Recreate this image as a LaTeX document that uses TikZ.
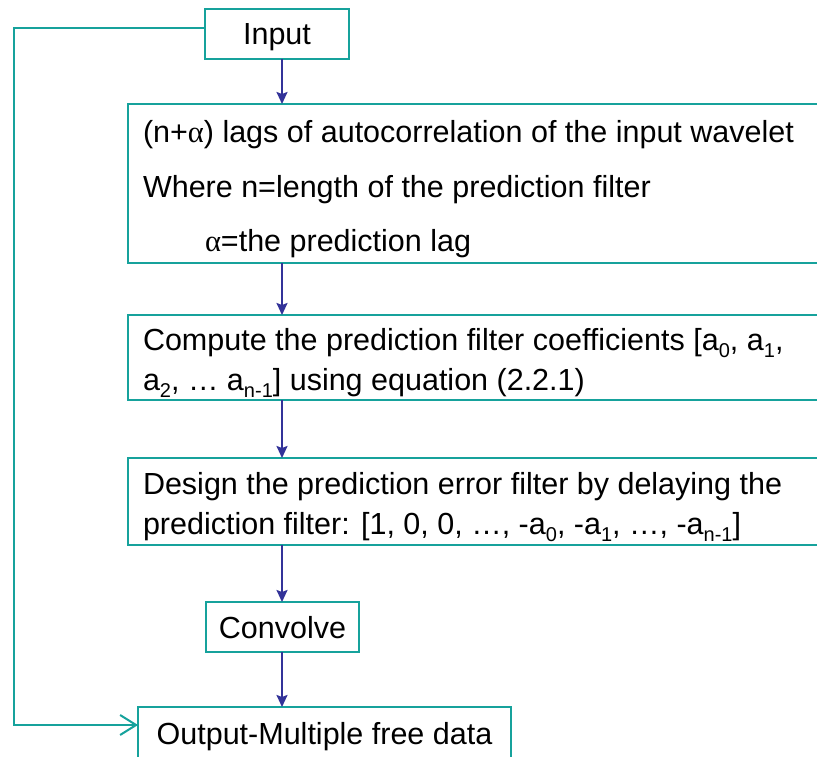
\documentclass[tikz,border=0pt]{standalone}
\usepackage{fontspec}
\setmainfont{Liberation Sans}
\newfontfamily\grk{Liberation Serif}
\usetikzlibrary{arrows.meta}
\definecolor{tealc}{RGB}{22,162,156}
\definecolor{bluec}{RGB}{51,51,153}
\newcommand{\al}{{\grk α}}
\newcommand{\sub}[1]{\raisebox{-0.26em}{\fontsize{20}{20}\selectfont #1}}
\begin{document}
\begin{tikzpicture}[x=1pt,y=-1pt,
  box/.style={draw=tealc,line width=2pt,rectangle,inner sep=0pt,outer sep=0pt,text depth=0pt},
  txt/.style={anchor=base west,inner sep=0pt,outer sep=0pt},
  flow/.style={draw=bluec,line width=2pt,-{Stealth[length=12pt,width=11pt,inset=2pt]}},
  back/.style={draw=tealc,line width=2pt,-{Straight Barb[length=16pt,width=20pt,line width=2pt]}}]
\clip (0,0) rectangle (817,757);
\fill[white] (0,0) rectangle (817,757);
\fontsize{30.5}{36}\selectfont
\node[box,minimum width=144pt,minimum height=50pt] (in) at (277,34) {Input};
\node[box,minimum width=702pt,minimum height=159pt] (b2) at (479,183.5) {};
\node[box,minimum width=702pt,minimum height=85pt] (b3) at (479,357.5) {};
\node[box,minimum width=702pt,minimum height=87pt] (b4) at (479,501.5) {};
\node[box,minimum width=153pt,minimum height=50pt] (cv) at (282.5,627) {Convolve};
\node[box,minimum width=373pt,minimum height=53pt] (out) at (324.5,733.5) {Output-Multiple free data};
\node[txt] (t1) at (143,143) {(n+\al) lags of autocorrelation of the input wavelet};
\node[txt] (t2) at (143,197) {Where n=length of the prediction filter};
\node[txt] (t3) at (205,251) {\al=the prediction lag};
\node[txt] (t4) at (143,350) {Compute the prediction filter coefficients [a\sub{0}, a\sub{1},};
\node[txt] (t5) at (143,390) {a\sub{2}, … a\sub{n-1}] using equation (2.2.1)};
\node[txt] (t6) at (143,494) {Design the prediction error filter by delaying the};
\node[txt] (t7) at (143,534) {prediction filter: [1, 0, 0, …, -a\sub{0}, -a\sub{1}, …, -a\sub{n-1}]};
\coordinate (ax) at (282,0);
\coordinate (lt) at (14,28);
\coordinate (lb) at (14,725);
\draw[flow] (in.south -| ax) -- (b2.north -| ax);
\draw[flow] (b2.south -| ax) -- (b3.north -| ax);
\draw[flow] (b3.south -| ax) -- (b4.north -| ax);
\draw[flow] (b4.south -| ax) -- (cv.north -| ax);
\draw[flow] (cv.south -| ax) -- (out.north -| ax);
\draw[back] (in.west |- lt) -- (lt) -- (lb) -- (out.west |- lb);
\end{tikzpicture}
\end{document}
